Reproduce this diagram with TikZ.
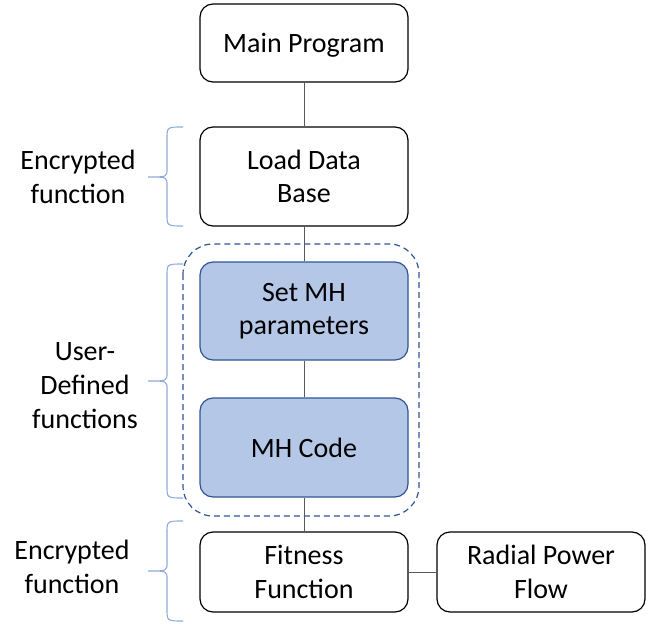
\documentclass[tikz,border=0pt]{standalone}
\usepackage{fontspec}
\setmainfont{Carlito}
\definecolor{mhfill}{HTML}{B4C7E7}
\definecolor{mhrand}{HTML}{2F5597}
\definecolor{klammerblau}{HTML}{8FAADC}
\definecolor{linie}{HTML}{595959}

\tikzset{
	kasten/.style={draw=black,line width=1.2pt,rounded corners=13pt,minimum width=208pt,align=center,font=\fontsize{28}{33.5}\selectfont},
	mhkasten/.style={kasten,draw=mhrand,fill=mhfill},
	einzeilig/.style={text depth=-2pt},
	beschriftung/.style={align=center,font=\fontsize{28}{34}\selectfont},
	klammer/.style={draw=klammerblau,line width=1.1pt}
}

% geschweifte Klammer: oben, Mitte, unten
\def\klammer#1#2#3{
	\draw[klammer] (183,#1) .. controls (167,#1) .. (167,#1+12) -- (167,#2-8) .. controls (167,#2) .. (148,#2)
		.. controls (167,#2) .. (167,#2+8) -- (167,#3-12) .. controls (167,#3) .. (183,#3);
}

\begin{document}
\begin{tikzpicture}[x=1pt,y=-1pt]
\useasboundingbox (0,0) rectangle (656,626);

\draw[mhrand,dash pattern=on 6pt off 4pt,line width=1.2pt,rounded corners=30pt] (183,244) rectangle (419,516);

\node[kasten,einzeilig,minimum height=78pt] (main) at (304,43) {Main Program};
\node[kasten,minimum height=99pt] (load) at (304,176.5) {Load Data\\Base};
\node[mhkasten,minimum height=98pt] (set) at (304,311) {Set MH\\parameters};
\node[mhkasten,einzeilig,minimum height=99pt] (code) at (304,447.5) {MH Code};
\node[kasten,minimum height=80pt] (fitness) at (304,572) {Fitness\\Function};
\node[kasten,minimum height=80pt] (flow) at (541,572) {Radial Power\\Flow};

\draw[linie,line width=0.8pt] (main) -- (load);
\draw[linie,line width=0.8pt] (load) -- (set);
\draw[linie,line width=0.8pt] (set) -- (code);
\draw[linie,line width=0.8pt] (code) -- (fitness);
\draw[linie,line width=0.8pt] (fitness) -- (flow);

\klammer{127}{177}{226}
\klammer{264}{381}{498}
\klammer{521}{571}{621}

\node[beschriftung] (verschl1) at (78,177) {Encrypted\\function};
\node[beschriftung] (nutzer) at (85,386) {User-\\Defined\\functions};
\node[beschriftung] (verschl2) at (72,567) {Encrypted\\function};
\end{tikzpicture}
\end{document}
